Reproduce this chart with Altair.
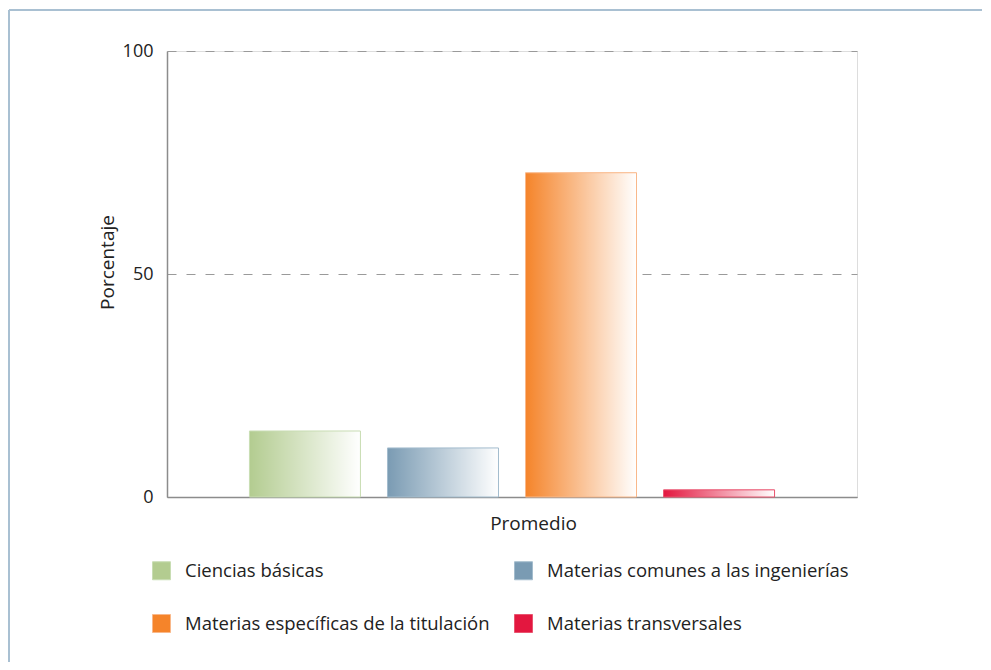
import altair as alt
import pandas as pd

series = ["Ciencias básicas", "Materias comunes a las ingenierías",
          "Materias específicas de la titulación", "Materias transversales"]
values = [14.8, 11.0, 72.7, 1.6]
group = ["Promedio"] * 4
fill_colors = ["#B3CC90", "#7A9BB3", "#F5842A", "#E3173F"]
stroke_colors = ["#C8DDB3", "#A3BCCD", "#F9B88A", "#E9546F"]

df = pd.DataFrame({"grupo": group, "serie": series, "valor": values})

FONT = "Open Sans"

x = alt.X("grupo:N", title="Promedio",
          scale=alt.Scale(paddingInner=0, paddingOuter=0.157),
          axis=alt.Axis(labels=False, ticks=False, grid=False, domainColor="#8c8c8c", domainWidth=1.5,
                        titleX=366, titleY=26, titleBaseline="middle", titleAlign="center",
                        titleFontWeight="normal", titleFontSize=19, titleFont=FONT, titleColor="#222222"))
xo = alt.XOffset("serie:N", sort=series, scale=alt.Scale(paddingInner=0.196, paddingOuter=0))
y = alt.Y("valor:Q", title="Porcentaje",
          scale=alt.Scale(domain=[0, 100], nice=False),
          axis=alt.Axis(values=[0, 50, 100], ticks=False, domainColor="#8c8c8c", domainWidth=1.5,
                        grid=True, gridDash=[9, 10], gridColor="#9a9a9a", gridWidth=1,
                        labelPadding=14, labelFontSize=18, labelFont=FONT, labelColor="#222222",
                        titleX=-60, titleY=211, titleAngle=270, titleAlign="center",
                        titleBaseline="middle", titleFontWeight="normal", titleFontSize=19,
                        titleFont=FONT, titleColor="#222222"))

fill_scale = alt.Scale(domain=series, range=fill_colors)
stroke_scale = alt.Scale(domain=series, range=stroke_colors)

legend = alt.Legend(title=None, orient="none", legendX=-15, legendY=510, direction="horizontal",
                    columns=2, columnPadding=22, rowPadding=30,
                    symbolType="square", symbolSize=324, symbolStrokeWidth=1,
                    labelFontSize=18.5, labelFont=FONT, labelColor="#222222",
                    labelOffset=14, labelLimit=500)

bars = alt.Chart(df).mark_bar(strokeWidth=0).encode(
    x=x, xOffset=xo, y=y,
    fill=alt.Fill("serie:N", sort=series, scale=fill_scale, legend=legend),
)

overlay = alt.Chart(df).mark_bar(
    strokeWidth=1,
    fill=alt.LinearGradient(gradient="linear",
                            stops=[alt.GradientStop(offset=0, color="rgba(255,255,255,0)"),
                                   alt.GradientStop(offset=1, color="rgba(255,255,255,1)")],
                            x1=0, x2=1, y1=0, y2=0),
).encode(
    x=x, xOffset=xo, y=y,
    stroke=alt.Stroke("serie:N", sort=series, scale=stroke_scale, legend=None),
)

frame_df = pd.DataFrame({"k": [0]})
top_line = alt.Chart(frame_df).mark_rule(color="#A9C0D2", strokeWidth=2).encode(
    x=alt.value(-158), x2=alt.value(820), y=alt.value(-41))
left_line = alt.Chart(frame_df).mark_rule(color="#A9C0D2", strokeWidth=2).encode(
    x=alt.value(-158), y=alt.value(-41), y2=alt.value(620))

chart = alt.layer(bars, overlay, top_line, left_line).properties(
    width=690, height=446,
    autosize=alt.AutoSizeParams(type="none"),
    padding={"left": 159, "top": 43, "right": 125, "bottom": 165},
).configure_view(stroke="transparent", strokeWidth=0).configure(font=FONT)

chart.save("out.html", embed_options={"renderer": "svg", "actions": False})
